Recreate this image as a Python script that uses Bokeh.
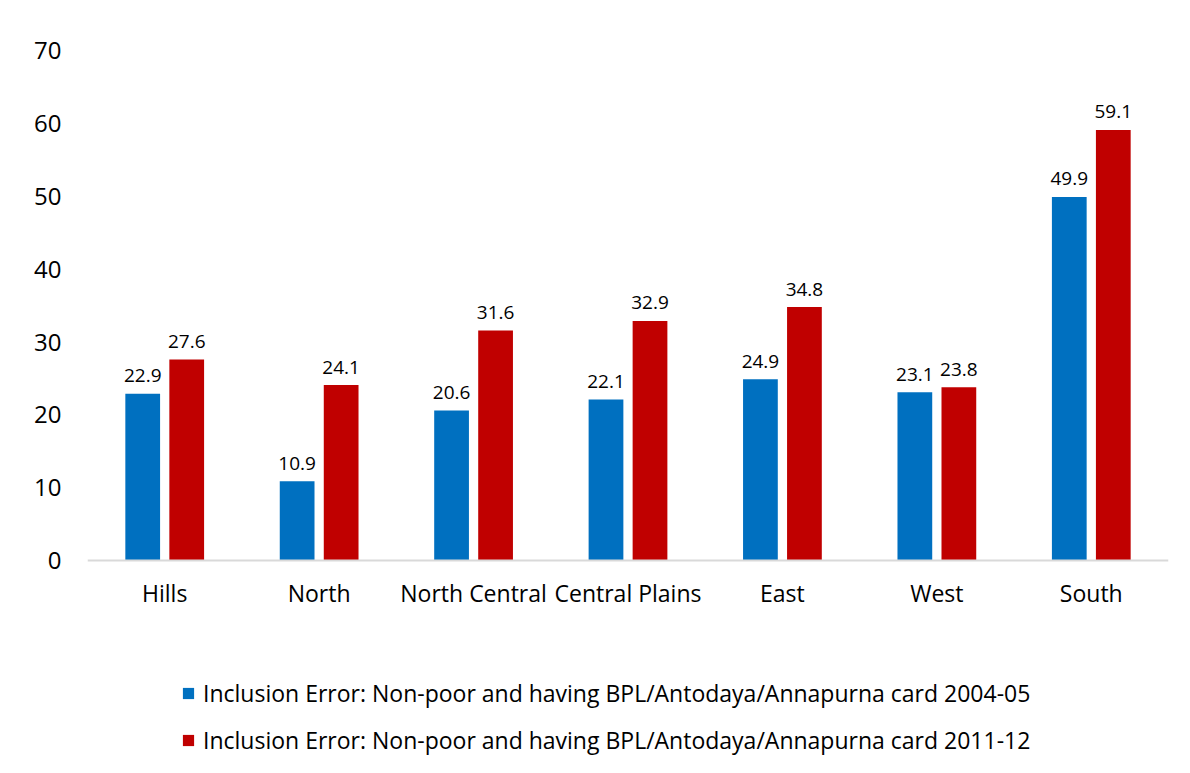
from bokeh.plotting import figure
from bokeh.models import ColumnDataSource, Legend, LegendItem, FactorRange, Range1d, FixedTicker
from bokeh.transform import dodge
from bokeh.core.properties import value
from bokeh.embed import file_html
from bokeh.resources import INLINE

regions = ["Hills", "North", "North Central", "Central Plains", "East", "West", "South"]
err_2004 = [22.9, 10.9, 20.6, 22.1, 24.9, 23.1, 49.9]
err_2011 = [27.6, 24.1, 31.6, 32.9, 34.8, 23.8, 59.1]
series_names = [
    "Inclusion Error: Non-poor and having BPL/Antodaya/Annapurna card 2004-05",
    "Inclusion Error: Non-poor and having BPL/Antodaya/Annapurna card 2011-12",
]
y_ticks = [0, 10, 20, 30, 40, 50, 60, 70]

BLUE = "#0070C0"
RED = "#C00000"
FONT = "Open Sans"

src = ColumnDataSource(dict(
    region=regions,
    v1=err_2004,
    v2=err_2011,
    l1=[f"{v:.1f}" for v in err_2004],
    l2=[f"{v:.1f}" for v in err_2011],
))

# frame extends below zero so that the legend sits inside the plot area
p = figure(
    x_range=FactorRange(*regions, range_padding=0),
    y_range=Range1d(-28.1, 70),
    width=1182, height=765,
    output_backend="svg", toolbar_location=None,
    min_border_left=87, min_border_right=14, min_border_top=50, min_border_bottom=0,
)

off = 0.1425
w = 0.225
r1 = p.vbar(x=dodge("region", -off, range=p.x_range), top="v1", width=w, source=src,
            fill_color=BLUE, line_color=None)
r2 = p.vbar(x=dodge("region", off, range=p.x_range), top="v2", width=w, source=src,
            fill_color=RED, line_color=None)

p.text(x=dodge("region", -off, range=p.x_range), y="v1", text="l1", source=src,
       text_align="center", text_baseline="alphabetic", y_offset=-18,
       text_font=value(FONT), text_font_size="19px", text_color="#000000")
p.text(x=dodge("region", off, range=p.x_range), y="v2", text="l2", source=src,
       text_align="center", text_baseline="alphabetic", y_offset=-18,
       text_font=value(FONT), text_font_size="19px", text_color="#000000")

p.xgrid.visible = False
p.ygrid.visible = False
p.outline_line_color = None

p.yaxis.ticker = FixedTicker(ticks=y_ticks)
p.yaxis.axis_line_color = None
p.yaxis.major_tick_line_color = None
p.yaxis.minor_tick_line_color = None
p.yaxis.major_label_text_font = FONT
p.yaxis.major_label_text_font_size = "24px"
p.yaxis.major_label_text_color = "#000000"
p.yaxis.major_label_standoff = 20

p.xaxis.fixed_location = 0
p.xaxis.axis_line_color = "#d9d9d9"
p.xaxis.axis_line_width = 2
p.xaxis.major_tick_line_color = None
p.xaxis.minor_tick_line_color = None
p.xaxis.major_label_text_font = FONT
p.xaxis.major_label_text_font_size = "23px"
p.xaxis.major_label_text_color = "#000000"
p.xaxis.major_label_standoff = 10

legend = Legend(
    items=[LegendItem(label=series_names[0], renderers=[r1]),
           LegendItem(label=series_names[1], renderers=[r2])],
    location=(94, 9), orientation="vertical",
    label_text_font=FONT, label_text_font_size="23px", label_text_color="#000000",
    glyph_width=14, glyph_height=14, label_height=30, spacing=15, label_standoff=8,
    padding=0, margin=0, border_line_color=None, background_fill_alpha=0,
)
p.add_layout(legend, "center")

open("out.html", "w").write(file_html(p, INLINE))
